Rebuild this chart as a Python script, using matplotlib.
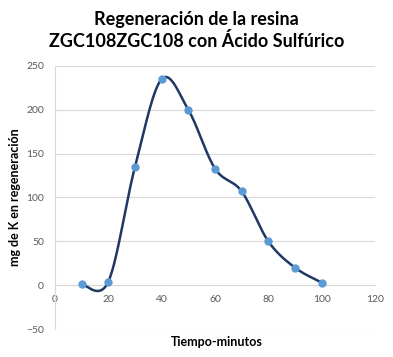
import numpy as np
import matplotlib
matplotlib.use("Agg")
import matplotlib.pyplot as plt

minutes = [10, 20, 30, 40, 50, 60, 70, 80, 90, 100]
mg_k = [1, 4, 135, 235, 200, 133, 107, 50, 20, 3]
x_ticks = [0, 20, 40, 60, 80, 100, 120]
y_ticks = [-50, 0, 50, 100, 150, 200, 250]
title = "Regeneración de la resina\nZGC108ZGC108 con Ácido Sulfúrico"
xlabel = "Tiempo-minutos"
ylabel = "mg de K en regeneración"


def smooth(xs, ys, n=30):
    # Excel-like smoothed line (Catmull-Rom as cubic Bezier)
    p = np.column_stack([xs, ys]).astype(float)
    pts = []
    for i in range(len(p) - 1):
        p0 = p[i - 1] if i > 0 else p[i]
        p1 = p[i]
        p2 = p[i + 1]
        p3 = p[i + 2] if i + 2 < len(p) else p[i + 1]
        c1 = p1 + (p2 - p0) / 6
        c2 = p2 - (p3 - p1) / 6
        t = np.linspace(0, 1, n)[:, None]
        seg = ((1 - t) ** 3) * p1 + 3 * ((1 - t) ** 2) * t * c1 + 3 * (1 - t) * t ** 2 * c2 + t ** 3 * p2
        pts.append(seg if i == 0 else seg[1:])
    s = np.vstack(pts)
    return s[:, 0], s[:, 1]


plt.rcParams['font.family'] = ['Lato', 'DejaVu Sans']
fig = plt.figure(figsize=(3.93, 3.57), dpi=100)
ax = fig.add_axes([0.14, 0.0784, 0.814, 0.737])

sx, sy = smooth(minutes, mg_k)
ax.plot(sx, sy, color='#1F3864', lw=1.8, zorder=3)
ax.plot(minutes, mg_k, 'o', color='#5B9BD5', ms=5, zorder=4)

ax.set_xlim(0, 120)
ax.set_ylim(-50, 250)
ax.set_xticks(x_ticks)
ax.set_yticks(y_ticks)
ax.grid(axis='y', color='#D9D9D9', lw=0.8)
ax.set_axisbelow(True)
for s in ['top', 'right']:
    ax.spines[s].set_visible(False)
ax.spines['bottom'].set_position(('data', 0))
ax.spines['bottom'].set_color('#D9D9D9')
ax.spines['left'].set_color('#D9D9D9')
ax.tick_params(length=0, labelsize=7.5, labelcolor='#595959')
ax.tick_params(axis='x', pad=7)
ax.tick_params(axis='y', pad=8)

fig.text(0.552, 0.042, xlabel, ha='center', va='center', fontsize=9, fontweight='bold')
fig.text(0.039, 0.447, ylabel, ha='center', va='center', rotation=90, fontsize=9, fontweight='bold')
fig.text(0.5, 0.915, title, ha='center', va='center', fontsize=13, fontweight='bold', linespacing=1.3)

fig.savefig('out.png', dpi=100)
